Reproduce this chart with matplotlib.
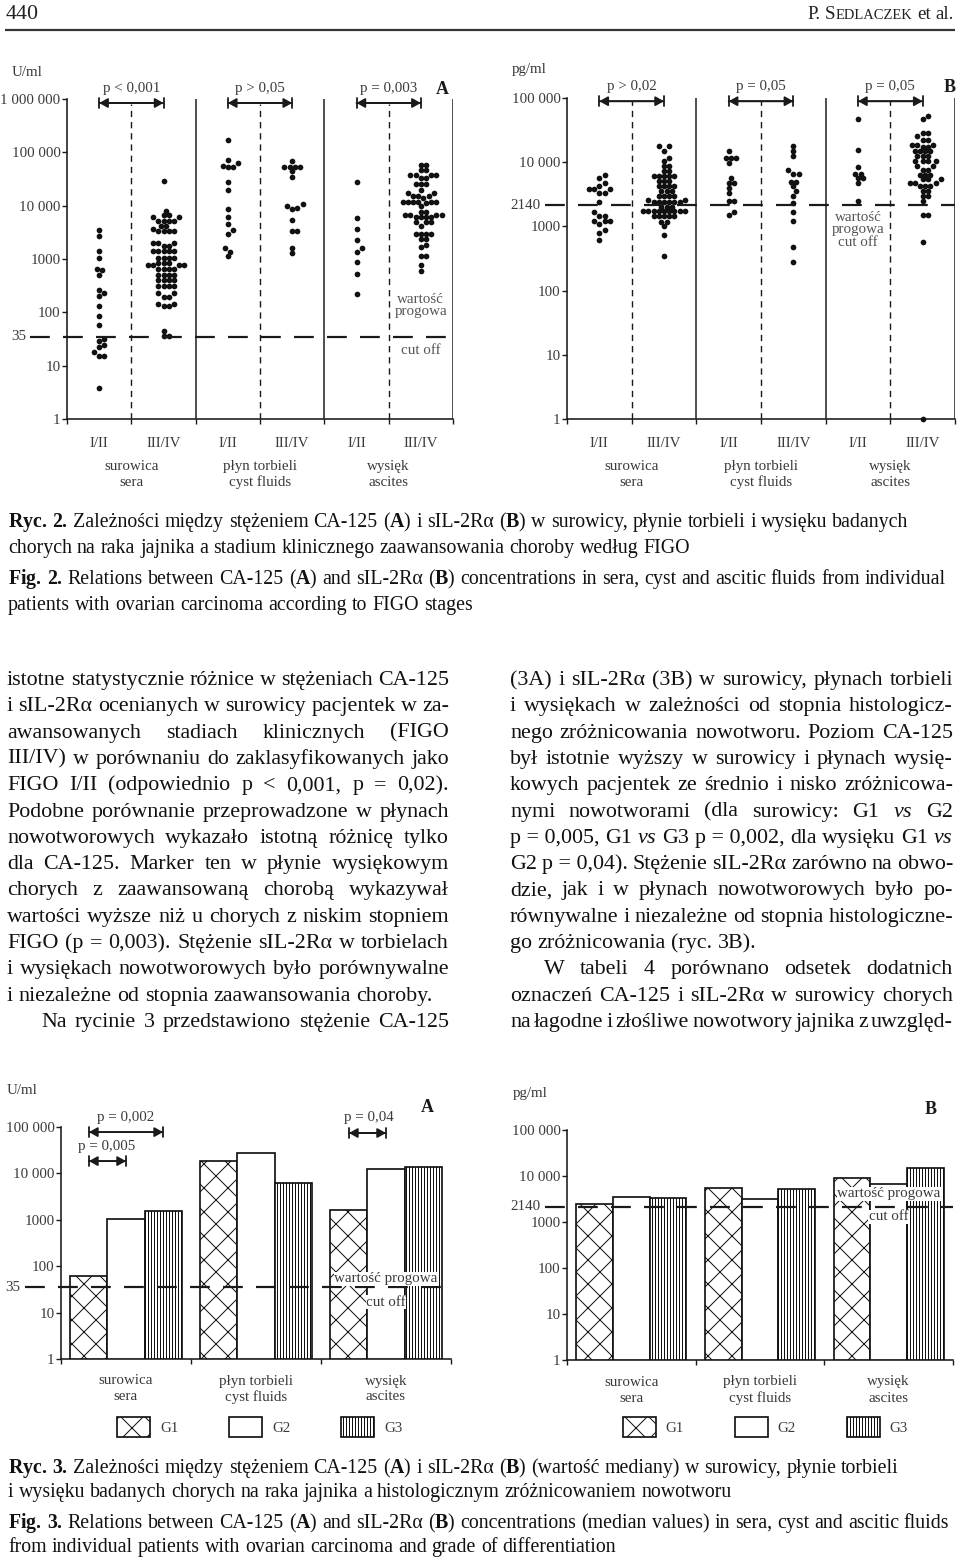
import numpy as np
import matplotlib
matplotlib.use('Agg')
import matplotlib.pyplot as plt
from matplotlib.patches import Rectangle
from matplotlib.transforms import blended_transform_factory

plt.rcParams['font.family'] = ['Liberation Serif', 'DejaVu Serif']
plt.rcParams['mathtext.fontset'] = 'custom'
plt.rcParams['mathtext.rm'] = 'Liberation Serif'
plt.rcParams['mathtext.bf'] = 'Liberation Serif:bold'
plt.rcParams['mathtext.it'] = 'Liberation Serif:italic'
plt.rcParams['hatch.linewidth'] = 1.0

# ---------------- DATA ----------------
stages = ['I/II', 'III/IV']
fluids_pl = ['surowica', 'płyn torbieli', 'wysięk']
fluids_en = ['sera', 'cyst fluids', 'ascites']

# Fig. 2A  CA-125 (U/ml)
a_sera_12 = [3550, 2660, 1390, 1030, 650, 615, 500, 260, 230, 200, 133, 87, 58,
             32, 29, 24, 22, 18, 15.4, 15.4, 3.8]
a_sera_34 = [28600, 8060, 6680, 6680, 6030, 6030, 5230, 5230, 5230, 5230, 4090, 4090,
             3700, 3350, 3350, 3350, 3350, 1995, 1995, 1995, 1780, 1780,
             1390, 1390, 1390, 1390, 1390, 1040, 1040, 1040, 1040, 840, 840, 840,
             760, 760, 760, 760, 650, 650, 650, 650, 510, 510, 510, 510,
             410, 410, 410, 410, 310, 310, 310, 310, 230, 230, 195, 195,
             144, 144, 130, 130, 45, 35.5, 35.5]
a_cyst_12 = [170000, 71000, 63000, 56000, 54000, 54000, 27500, 19500, 8500, 6000,
             4500, 3470, 2950, 1630, 1380, 1120]
a_cyst_34 = [70000, 54000, 54000, 54000, 54000, 44000, 34000, 10600, 10000, 9200,
             8600, 5400, 3300, 3300, 1630, 1290]
a_asc_12 = [27500, 5900, 3700, 2300, 1630, 1380, 870, 520, 220]
a_asc_34 = [58600, 58600, 47300, 47300, 38000, 38000, 38000, 38000, 33000, 33000,
            25900, 25900, 25900, 19300, 17200, 17200, 15000, 15000, 15000, 14000,
            11900, 11900, 11900, 11900, 11900, 11900, 11000, 9700, 7700, 7700,
            6700, 6700, 6700, 6700, 6100, 6100, 6100, 6100, 4900, 4900, 4900, 4100,
            2990, 2990, 2990, 2990, 2370, 2370, 1860, 1680, 1120, 1120, 760, 590]

# Fig. 2B  sIL-2Ralpha (pg/ml)
b_sera_12 = [6350, 5630, 4800, 4200, 3800, 3800, 3800, 3300, 3300, 2400, 1660, 1460,
             1460, 1200, 1200, 1200, 1100, 890, 785, 620]
b_sera_34 = [17600, 17600, 15200, 11600, 10300, 8600, 8600, 7200, 7200,
             6000, 6000, 6000, 6000, 6000, 5030, 5030, 5030, 4190, 4190, 4190, 4190,
             3500, 3500, 3500, 3000, 3000, 3000, 3000, 2600, 2600,
             2360, 2360, 2360, 2360, 2360, 2360, 2000, 2000, 2000,
             1710, 1710, 1710, 1710, 1710, 1710, 1710, 1710, 1710,
             1430, 1430, 1430, 1430, 1430, 1190, 1190, 1000, 740, 340]
b_cyst_12 = [14700, 11500, 11500, 11500, 9700, 5650, 4800, 4800, 4000, 3300, 2450,
             2450, 1700, 1520]
b_cyst_34 = [17700, 14700, 12300, 7600, 6600, 6600, 5000, 5000, 4200, 3500, 2940,
             2350, 1660, 1200, 475, 275]
b_asc_12 = [47000, 15600, 8300, 6600, 6600, 5650, 5650, 4700, 2450]
b_asc_34 = [51800, 47100, 28500, 28500, 25900, 22400, 22400, 18700, 18700, 18700,
            17200, 17200, 14700, 14700, 14700, 14700, 12600, 12600, 12600,
            10300, 10300, 10300, 10300, 8800, 8800, 7640, 7640, 6380, 6380, 6380,
            5460, 5460, 5460, 4730, 4730, 4730, 4200, 4200, 4200, 3590, 3590,
            3000, 3000, 2450, 1520, 1520, 580, 1]

# p-values
p_fig2a = ['p < 0,001', 'p > 0,05', 'p = 0,003']
p_fig2b = ['p > 0,02', 'p = 0,05', 'p = 0,05']

# Fig. 3 medians by grade
grades = ['G1', 'G2', 'G3']
a3_g1 = [62, 18500, 1590]
a3_g2 = [1050, 28000, 12500]
a3_g3 = [1560, 6200, 13800]
b3_g1 = [2500, 5600, 9200]
b3_g2 = [3450, 3170, 6700]
b3_g3 = [3250, 5150, 15200]

ticks_a2 = [1, 10, 100, 1000, 10000, 100000, 1000000]
ticklabels_a2 = ['1', '10', '100', '1000', '10 000', '100 000', '1 000 000']
ticks_5 = [1, 10, 100, 1000, 10000, 100000]
ticklabels_5 = ['1', '10', '100', '1000', '10 000', '100 000']
cutoff_a = 35
cutoff_b = 2140

# ---------------- FIGURE ----------------
W, H, DPI = 960, 1561, 72
fig = plt.figure(figsize=(W / DPI, H / DPI), dpi=DPI)
page = fig.add_axes([0, 0, 1, 1])
page.set_xlim(0, W)
page.set_ylim(H, 0)
page.axis('off')

INK = '#1a1a1a'
GREY = '#3a3a3a'
FS = 15


def ax_at(l, t, r, b):
    a = fig.add_axes([l / W, 1 - b / H, (r - l) / W, (b - t) / H])
    a.patch.set_visible(False)
    return a


def style_axis(ax, xmax, yticks, ylabels, ytop):
    ax.set_yscale('log')
    ax.set_ylim(1, ytop)
    ax.set_xlim(0, xmax)
    for s in ['top', 'right']:
        ax.spines[s].set_visible(False)
    for s in ['left', 'bottom']:
        ax.spines[s].set_linewidth(1.6)
        ax.spines[s].set_color(INK)
    ax.set_yticks(yticks)
    ax.set_yticklabels(ylabels, fontsize=FS, color=GREY)
    ax.yaxis.set_minor_locator(matplotlib.ticker.NullLocator())
    ax.set_xticks(np.arange(xmax + 1))
    ax.set_xticklabels([])
    ax.tick_params(axis='both', direction='out', length=5, width=1.4, color=INK, pad=1.5)


def swarm(ax, xc, vals, step=5.2, diam=5.7):
    T = ax.transData
    x0 = T.transform((xc, 10))[0]
    placed = []
    cands = sorted([k * step / 2 for k in range(-16, 17)], key=lambda o: (abs(o), -o))
    for v in sorted(vals):
        yp = T.transform((xc, v))[1]
        for o in cands:
            xp = x0 + o
            ok = True
            for (px, py) in placed:
                if (xp - px) ** 2 + (yp - py) ** 2 < (diam * 0.86) ** 2:
                    ok = False
                    break
            if ok:
                break
        placed.append((xp, yp))
    d = T.inverted().transform(np.array(placed))
    ax.plot(d[:, 0], d[:, 1], 'o', ms=diam, mew=0, color='#111111', clip_on=False, zorder=5)


def bracket(ax, x0, x1, yfrac, lw=1.8):
    tr = ax.get_xaxis_transform()
    ax.annotate('', xy=(x1, yfrac), xytext=(x0, yfrac), xycoords=tr, textcoords=tr,
                arrowprops=dict(arrowstyle='<|-|>,head_length=0.5,head_width=0.28',
                                mutation_scale=14, lw=lw, color=INK, shrinkA=0, shrinkB=0),
                annotation_clip=False)
    ax.annotate('', xy=(x1, yfrac), xytext=(x0, yfrac), xycoords=tr, textcoords=tr,
                arrowprops=dict(arrowstyle='|-|,widthA=0.36,widthB=0.36',
                                mutation_scale=14, lw=lw, color=INK, shrinkA=0, shrinkB=0),
                annotation_clip=False)


def cutoff_line(ax, val, xstart, label, label_x):
    bt = blended_transform_factory(ax.transAxes, ax.transData)
    ax.plot([xstart, 1.0], [val, val], transform=bt, color=INK, lw=2.2,
            dashes=(9, 6), clip_on=False, zorder=6)
    ax.text(label_x, val, label, transform=bt, ha='right', va='center',
            fontsize=FS, color=GREY)


def category_labels(ax, centers, dy_stage=None, stage_centers=None, dy1=0, dy2=0):
    tr = ax.get_xaxis_transform()
    if stage_centers is not None:
        for i, x in enumerate(stage_centers):
            ax.annotate(stages[i % 2], xy=(x, 0), xycoords=tr, xytext=(0, -dy_stage),
                        textcoords='offset points', ha='center', va='center',
                        fontsize=FS, color=GREY, annotation_clip=False)
    for i, x in enumerate(centers):
        ax.annotate(fluids_pl[i], xy=(x, 0), xycoords=tr, xytext=(0, -dy1),
                    textcoords='offset points', ha='center', va='center',
                    fontsize=FS, color=GREY, annotation_clip=False)
        ax.annotate(fluids_en[i], xy=(x, 0), xycoords=tr, xytext=(0, -dy2),
                    textcoords='offset points', ha='center', va='center',
                    fontsize=FS, color=GREY, annotation_clip=False)


def dot_panel(ax, groups, ytop, yticks, ylabels, pvals, dashed_top, br_frac, ptxt_frac):
    style_axis(ax, 6, yticks, ylabels, ytop)
    for x in [2, 4, 6]:
        ax.axvline(x, color=INK, lw=1.5, zorder=2)
    for x in [1, 3, 5]:
        ax.axvline(x, ymin=0, ymax=dashed_top, color=INK, lw=1.4, dashes=(4.5, 3.5), zorder=2)
    for i, vals in enumerate(groups):
        swarm(ax, i + 0.5, vals)
    tr = ax.get_xaxis_transform()
    for g in range(3):
        bracket(ax, 2 * g + 0.5, 2 * g + 1.5, br_frac)
        ax.text(2 * g + 1, ptxt_frac, pvals[g], transform=tr, ha='center', va='center',
                fontsize=FS, color=GREY, clip_on=False)
    category_labels(ax, [1, 3, 5], dy_stage=24, stage_centers=[0.5, 1.5, 2.5, 3.5, 4.5, 5.5],
                    dy1=47, dy2=63)


# ---- Fig. 2A ----
axA = ax_at(67, 99, 453, 419)
dot_panel(axA, [a_sera_12, a_sera_34, a_cyst_12, a_cyst_34, a_asc_12, a_asc_34],
          1e6, ticks_a2, ticklabels_a2, p_fig2a, 0.985, 0.9875, 1.034)
cutoff_line(axA, cutoff_a, -0.096, '35', -0.106)
trA = axA.get_xaxis_transform()
axA.text(5.5, 0.354, 'wartość\nprogowa', transform=trA, ha='center', va='center',
         fontsize=FS, color='#555555', linespacing=0.95)
axA.text(5.5, 0.213, 'cut off', transform=trA, ha='center', va='center',
         fontsize=FS, color='#555555')
page.text(12, 72, 'U/ml', fontsize=FS, color=GREY, va='center', ha='left')
page.text(442, 89, 'A', fontsize=18, fontweight='bold', color=INK, va='center', ha='center')

# ---- Fig. 2B ----
axB = ax_at(567, 98, 955, 419)
dot_panel(axB, [b_sera_12, b_sera_34, b_cyst_12, b_cyst_34, b_asc_12, b_asc_34],
          1e5, ticks_5, ticklabels_5, p_fig2b, 0.99, 0.99, 1.037)
cutoff_line(axB, cutoff_b, -0.057, '2140', -0.068)
trB = axB.get_xaxis_transform()
axB.text(4.5, 0.589, 'wartość\nprogowa\ncut off', transform=trB, ha='center', va='center',
         fontsize=FS, color='#555555', linespacing=0.92)
page.text(512, 69, 'pg/ml', fontsize=FS, color=GREY, va='center', ha='left')
page.text(950, 87, 'B', fontsize=18, fontweight='bold', color=INK, va='center', ha='center')


# ---- Fig. 3 bar panels ----
def bar_panel(ax, g1, g2, g3, cutoff, cut_xstart, cut_lbl, cut_lbl_x):
    style_axis(ax, 3, ticks_5, ticklabels_5, 1e5)
    x = np.arange(3) + 0.5
    w = 0.285
    for vals, off, hatch in [(g1, -w, 'x'), (g2, 0, None), (g3, w, '||||')]:
        v = np.array(vals, dtype=float)
        ax.bar(x + off, v - 1, bottom=1, width=w, facecolor='white', edgecolor='#111111',
               lw=1.7, hatch=hatch, zorder=3)
    cutoff_line(ax, cutoff, cut_xstart, cut_lbl, cut_lbl_x)
    category_labels(ax, x, dy1=22, dy2=38)


ax3A = ax_at(61, 1127, 451, 1359)
bar_panel(ax3A, a3_g1, a3_g2, a3_g3, cutoff_a, -0.092, '35', -0.105)
tr3A = ax3A.get_xaxis_transform()
bracket(ax3A, 0.5 - 0.285, 0.5 + 0.285, 0.978)
ax3A.text(0.5, 1.043, 'p = 0,002', transform=tr3A, ha='center', va='center', fontsize=FS, color=GREY)
bracket(ax3A, 0.5 - 0.285, 0.5, 0.853)
ax3A.text(0.5 - 0.15, 0.918, 'p = 0,005', transform=tr3A, ha='center', va='center', fontsize=FS, color=GREY)
bracket(ax3A, 2.5 - 0.285, 2.5, 0.974)
ax3A.text(2.5 - 0.135, 1.043, 'p = 0,04', transform=tr3A, ha='center', va='center', fontsize=FS, color=GREY)
ax3A.text(2.5, 0.345, 'wartość progowa', transform=tr3A, ha='center', va='center', fontsize=FS,
          color=GREY, zorder=8, bbox=dict(facecolor='white', edgecolor='none', pad=0.5))
ax3A.text(2.5, 0.245, 'cut off', transform=tr3A, ha='center', va='center', fontsize=FS,
          color=GREY, zorder=8, bbox=dict(facecolor='white', edgecolor='none', pad=0.5))
page.text(7, 1090, 'U/ml', fontsize=FS, color=GREY, va='center', ha='left')
page.text(427, 1108, 'A', fontsize=18, fontweight='bold', color=INK, va='center', ha='center')

ax3B = ax_at(567, 1130, 953, 1360)
bar_panel(ax3B, b3_g1, b3_g2, b3_g3, cutoff_b, -0.057, '2140', -0.068)
tr3B = ax3B.get_xaxis_transform()
ax3B.text(2.5, 0.722, 'wartość progowa', transform=tr3B, ha='center', va='center', fontsize=FS,
          color=GREY, zorder=8, bbox=dict(facecolor='white', edgecolor='none', pad=0.5))
ax3B.text(2.5, 0.622, 'cut off', transform=tr3B, ha='center', va='center', fontsize=FS,
          color=GREY, zorder=8, bbox=dict(facecolor='white', edgecolor='none', pad=0.5))
page.text(513, 1093, 'pg/ml', fontsize=FS, color=GREY, va='center', ha='left')
page.text(931, 1110, 'B', fontsize=18, fontweight='bold', color=INK, va='center', ha='center')

# legends
for (bx, tx) in [(117, 160), (623, 665)]:
    for i, hatch in enumerate(['x', None, '||||']):
        x0 = bx + i * 112
        page.add_patch(Rectangle((x0, 1417), 33, 20, facecolor='white', edgecolor='#111111',
                                 lw=1.7, hatch=hatch))
        page.text(tx + i * 112, 1428, grades[i], fontsize=FS, color=GREY, va='center', ha='left')

# ---------------- PAGE TEXT ----------------
fig.canvas.draw()
R = fig.canvas.get_renderer()


def tw(s, fs, **kw):
    t = page.text(0, 0, s, fontsize=fs, **kw)
    w = t.get_window_extent(R).width
    t.remove()
    return w


def space_w(fs):
    return tw('a a', fs) - tw('aa', fs)


def line(x0, x1, y, text, fs, justify, color='#111111'):
    words = text.split(' ')
    widths = [tw(w, fs) for w in words]
    sw = space_w(fs)
    if justify and len(words) > 1:
        gap = (x1 - x0 - sum(widths)) / (len(words) - 1)
    else:
        gap = sw
    x = x0
    for w, wd in zip(words, widths):
        page.text(x, y, w, fontsize=fs, ha='left', va='baseline', color=color)
        x += wd + gap


# header
page.text(6, 19, '440', fontsize=22, ha='left', va='baseline', color='#222222')
hdr_fs = 19
parts = [('P.', hdr_fs), (' ', hdr_fs), ('S', hdr_fs), ('EDLACZEK', hdr_fs * 0.76), (' ', hdr_fs),
         ('et', hdr_fs), (' ', hdr_fs), ('al.', hdr_fs)]
widths = [space_w(f) if s == ' ' else tw(s, f) for s, f in parts]
x = 954 - sum(widths)
for (s, f), wd in zip(parts, widths):
    if s != ' ':
        page.text(x, 19, s, fontsize=f, ha='left', va='baseline', color='#222222')
    x += wd
page.plot([5, 955], [29.5, 29.5], color='#333333', lw=2.2, solid_capstyle='butt')

# captions
cap2 = [r'$\mathbf{Ryc.}$ $\mathbf{2.}$ Zależności między stężeniem CA-125 ($\mathbf{A}$) i sIL-2Rα ($\mathbf{B}$) w surowicy, płynie torbieli i wysięku badanych',
        'chorych na raka jajnika a stadium klinicznego zaawansowania choroby według FIGO',
        r'$\mathbf{Fig.}$ $\mathbf{2.}$ Relations between CA-125 ($\mathbf{A}$) and sIL-2Rα ($\mathbf{B}$) concentrations in sera, cyst and ascitic fluids from individual',
        'patients with ovarian carcinoma according to FIGO stages']
cap3 = [r'$\mathbf{Ryc.}$ $\mathbf{3.}$ Zależności między stężeniem CA-125 ($\mathbf{A}$) i sIL-2Rα ($\mathbf{B}$) (wartość mediany) w surowicy, płynie torbieli',
        'i wysięku badanych chorych na raka jajnika a histologicznym zróżnicowaniem nowotworu',
        r'$\mathbf{Fig.}$ $\mathbf{3.}$ Relations between CA-125 ($\mathbf{A}$) and sIL-2Rα ($\mathbf{B}$) concentrations (median values) in sera, cyst and ascitic fluids',
        'from individual patients with ovarian carcinoma and grade of differentiation']
ref = cap2[2]
cap_fs = 12 * 944 / (sum(tw(w, 12) for w in ref.split(' ')) + space_w(12) * (len(ref.split(' ')) - 1))
for txt, yb in zip(cap2, [527, 553, 584, 610]):
    line(8, 953, yb, txt, cap_fs, False)
for txt, yb in zip(cap3, [1473, 1497, 1528, 1552]):
    line(8, 953, yb, txt, cap_fs, False)

# body text columns
left_col = [
    ('istotne statystycznie różnice w stężeniach CA-125', True, 0),
    ('i sIL-2Rα ocenianych w surowicy pacjentek w za-', True, 0),
    ('awansowanych stadiach klinicznych (FIGO', True, 0),
    ('III/IV) w porównaniu do zaklasyfikowanych jako', True, 0),
    ('FIGO I/II (odpowiednio p < 0,001, p = 0,02).', True, 0),
    ('Podobne porównanie przeprowadzone w płynach', True, 0),
    ('nowotworowych wykazało istotną różnicę tylko', True, 0),
    ('dla CA-125. Marker ten w płynie wysiękowym', True, 0),
    ('chorych z zaawansowaną chorobą wykazywał', True, 0),
    ('wartości wyższe niż u chorych z niskim stopniem', True, 0),
    ('FIGO (p = 0,003). Stężenie sIL-2Rα w torbielach', True, 0),
    ('i wysiękach nowotworowych było porównywalne', True, 0),
    ('i niezależne od stopnia zaawansowania choroby.', False, 0),
    ('Na rycinie 3 przedstawiono stężenie CA-125', True, 34),
]
right_col = [
    ('(3A) i sIL-2Rα (3B) w surowicy, płynach torbieli', True, 0),
    ('i wysiękach w zależności od stopnia histologicz-', True, 0),
    ('nego zróżnicowania nowotworu. Poziom CA-125', True, 0),
    ('był istotnie wyższy w surowicy i płynach wysię-', True, 0),
    ('kowych pacjentek ze średnio i nisko zróżnicowa-', True, 0),
    (r'nymi nowotworami (dla surowicy: G1 $\mathit{vs}$ G2', True, 0),
    ('p\u00a0=\u00a00,005, G1 $\\mathit{vs}$ G3 p\u00a0=\u00a00,002, dla wysięku G1 $\\mathit{vs}$', True, 0),
    ('G2 p\u00a0=\u00a00,04). Stężenie sIL-2Rα zarówno na obwo-', True, 0),
    ('dzie, jak i w płynach nowotworowych było po-', True, 0),
    ('równywalne i niezależne od stopnia histologiczne-', True, 0),
    ('go zróżnicowania (ryc. 3B).', False, 0),
    ('W tabeli 4 porównano odsetek dodatnich', True, 34),
    ('oznaczeń CA-125 i sIL-2Rα w surowicy chorych', True, 0),
    ('na łagodne i złośliwe nowotwory jajnika z uwzględ-', True, 0),
]
probe = 'wartości wyższe niż u chorych z niskim stopniem'
pw = sum(tw(w, 12) for w in probe.split(' ')) + space_w(12) * (len(probe.split(' ')) - 1)
body_fs = 12 * 438 / pw
for i, (txt, just, ind) in enumerate(left_col):
    line(7 + ind, 449, 685 + i * 26.3, txt, body_fs, just)
for i, (txt, just, ind) in enumerate(right_col):
    line(510 + ind, 953, 685 + i * 26.3, txt, body_fs, just)

fig.savefig('out.png', dpi=DPI, facecolor='white')
